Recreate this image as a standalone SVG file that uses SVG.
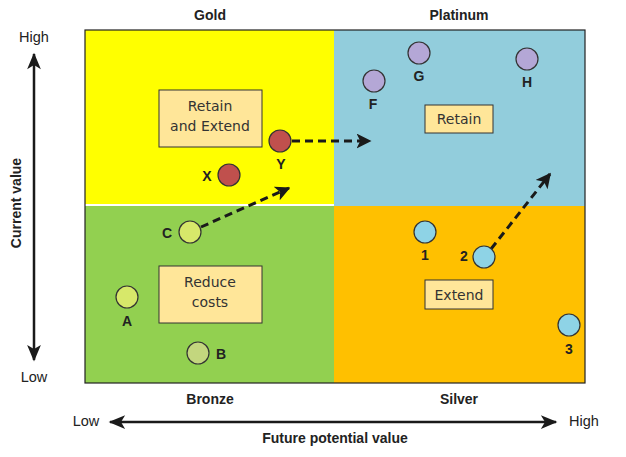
<svg xmlns="http://www.w3.org/2000/svg" width="626" height="457" viewBox="0 0 626 457">
<defs>
<style>
.lbl{font-family:"Liberation Sans",Arial,sans-serif;font-weight:bold;font-size:14px;fill:#222;text-anchor:middle;dominant-baseline:central}
.ax{font-family:"Liberation Sans",Arial,sans-serif;font-size:14.5px;fill:#222;text-anchor:middle;dominant-baseline:central}
.box{fill:#FFE699;stroke:#333;stroke-width:1}
.bt{font-family:"DejaVu Sans",Verdana,sans-serif;font-size:14px;fill:#333;text-anchor:middle;dominant-baseline:central}
.pt{stroke:#333;stroke-width:1.2}
.red{fill:#C0504D}.pur{fill:#B4A7D6}.lg{fill:#D7E86A}.mg{fill:#C3D67E}.lb{fill:#8ED3E6}
.dash{fill:none;stroke:#1a1a1a;stroke-width:3;stroke-dasharray:8,5}
.axis{stroke:#1a1a1a;stroke-width:2.5}
</style>
<marker id="dh" viewBox="0 0 10 10" refX="9" refY="5" markerWidth="5" markerHeight="5" orient="auto" markerUnits="strokeWidth"><path d="M0,0 L10,5 L0,10 L2.5,5 Z" fill="#1a1a1a"/></marker>
<marker id="ah" viewBox="0 0 12 10" refX="11" refY="5" markerWidth="7" markerHeight="5.5" orient="auto-start-reverse" markerUnits="strokeWidth"><path d="M0,0 L12,5 L0,10 L3,5 Z" fill="#1a1a1a"/></marker>
</defs>
<rect width="626" height="457" fill="#fff"/>
<g id="quadrants">
<rect x="85" y="30" width="249" height="174" fill="#FFFF00"/>
<rect x="85" y="206" width="249" height="177" fill="#92D050"/>
<rect x="334" y="30" width="251" height="176" fill="#92CDDC"/>
<rect x="334" y="206" width="251" height="177" fill="#FFC000"/>
<rect x="85" y="30" width="500" height="353" fill="none" stroke="#222" stroke-width="1.2"/>
</g>
<g id="titles">
<text class="lbl" x="210" y="15">Gold</text>
<text class="lbl" x="459" y="15">Platinum</text>
<text class="lbl" x="210" y="399">Bronze</text>
<text class="lbl" x="459" y="399">Silver</text>
</g>
<g id="axes">
<line class="axis" x1="34" y1="54" x2="34" y2="360" marker-start="url(#ah)" marker-end="url(#ah)"/>
<text class="ax" x="34" y="37">High</text>
<text class="ax" x="34" y="377">Low</text>
<text class="lbl" x="16" y="203" transform="rotate(-90 16 203)">Current value</text>
<line class="axis" x1="110" y1="422" x2="556" y2="422" marker-start="url(#ah)" marker-end="url(#ah)"/>
<text class="ax" x="86" y="421">Low</text>
<text class="ax" x="584" y="421">High</text>
<text class="lbl" x="335" y="438">Future potential value</text>
</g>
<g id="box-retain-extend"><rect class="box" x="159" y="90" width="103" height="57"/><text class="bt" x="210" y="106">Retain</text><text class="bt" x="210" y="126">and Extend</text></g>
<g id="box-retain"><rect class="box" x="425" y="105" width="68" height="28"/><text class="bt" x="459" y="119">Retain</text></g>
<g id="box-reduce"><rect class="box" x="159" y="266" width="103" height="57"/><text class="bt" x="210" y="282">Reduce</text><text class="bt" x="210" y="302">costs</text></g>
<g id="box-extend"><rect class="box" x="425" y="280" width="68" height="29"/><text class="bt" x="459" y="295">Extend</text></g>
<g id="connectors">
<line class="dash" x1="292" y1="141" x2="370" y2="141" marker-end="url(#dh)"/>
<line class="dash" x1="201" y1="227" x2="289" y2="188" marker-end="url(#dh)"/>
<line class="dash" x1="491" y1="249" x2="550" y2="174" marker-end="url(#dh)"/>
</g>
<g id="node-Y"><circle class="pt red" cx="280" cy="141" r="11"/><text class="lbl" x="281" y="164">Y</text></g>
<g id="node-X"><circle class="pt red" cx="229" cy="175" r="11"/><text class="lbl" x="207" y="176">X</text></g>
<g id="node-F"><circle class="pt pur" cx="374" cy="81" r="11"/><text class="lbl" x="373" y="104">F</text></g>
<g id="node-G"><circle class="pt pur" cx="419" cy="53" r="11"/><text class="lbl" x="419" y="76">G</text></g>
<g id="node-H"><circle class="pt pur" cx="527" cy="59" r="11"/><text class="lbl" x="527" y="82">H</text></g>
<g id="node-C"><circle class="pt lg" cx="190" cy="232" r="11"/><text class="lbl" x="167" y="233">C</text></g>
<g id="node-A"><circle class="pt lg" cx="127" cy="297" r="11"/><text class="lbl" x="127" y="321">A</text></g>
<g id="node-B"><circle class="pt mg" cx="198" cy="353" r="11"/><text class="lbl" x="221" y="354">B</text></g>
<g id="node-1"><circle class="pt lb" cx="425" cy="232" r="11"/><text class="lbl" x="425" y="255">1</text></g>
<g id="node-2"><circle class="pt lb" cx="484" cy="257" r="11"/><text class="lbl" x="464" y="256">2</text></g>
<g id="node-3"><circle class="pt lb" cx="569" cy="325" r="11"/><text class="lbl" x="569" y="349">3</text></g>
</svg>
